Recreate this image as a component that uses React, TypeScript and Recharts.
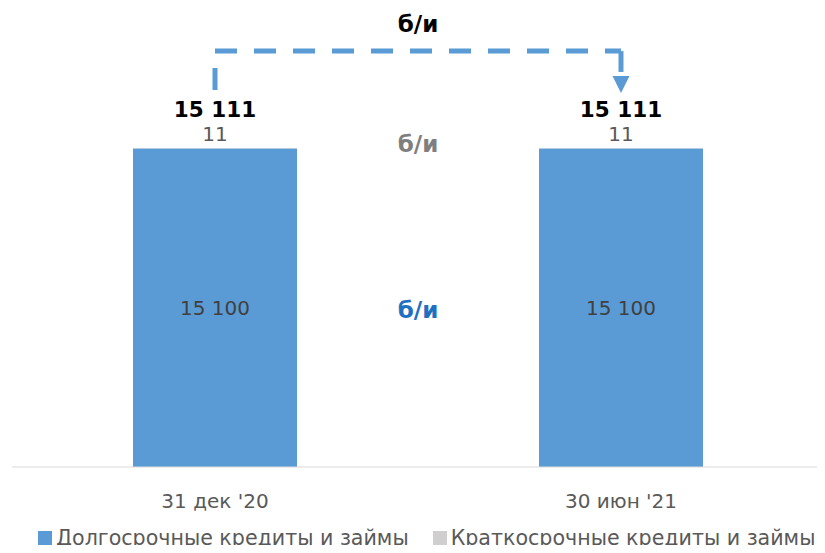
import { BarChart, Bar, XAxis, YAxis, LabelList, ReferenceLine, ReferenceDot, Legend } from 'recharts'

const periods = ["31 дек '20", "30 июн '21"]
const longTerm = [15100, 15100]
const shortTerm = [11, 11]
const seriesNames = ['Долгосрочные кредиты и займы', 'Краткосрочные кредиты и займы']
const noChange = 'б/и'

// where the annotations sit, in axis units
const topNoteY = 21000
const connectorY = 19720
const connectorLeftFrom = 17870
const connectorRightTo = 18730
const arrowTipY = 17730
const shortNoteY = 15300
const longNoteY = 7450

const data = periods.map((p, i) => ({
  period: p,
  longTerm: longTerm[i],
  shortTerm: shortTerm[i],
  total: longTerm[i] + shortTerm[i],
}))

const font = "'DejaVu Sans', Verdana, sans-serif"
const blue = '#5B9BD5'
const grey = '#D0CECE'
const textGrey = '#595959'

const fmt = (v: number) => String(v).replace(/\B(?=(\d{3})+(?!\d))/g, ' ')

const Tick = (props: any) => {
  const { x, y, payload } = props
  return (
    <text x={x} y={y + 33} textAnchor="middle" fill={textGrey} fontSize={20} fontFamily={font}>
      {payload.value}
    </text>
  )
}

const TopLabel = (props: any) => {
  const { x, y, width, index } = props
  const cx = x + width / 2
  return (
    <g fontFamily={font} textAnchor="middle">
      <text x={cx} y={y - 7} fill={textGrey} fontSize={20}>{fmt(shortTerm[index])}</text>
      <text x={cx} y={y - 31} fill="#000" fontSize={21.5} fontWeight="bold">{fmt(data[index].total)}</text>
    </g>
  )
}

const Arrow = (props: any) => {
  const { cx, cy } = props
  return <polygon points={`${cx - 8.5},${cy - 17} ${cx + 8.5},${cy - 17} ${cx},${cy}`} fill={blue} />
}

const renderLegend = (props: any) => {
  const items = props.payload || []
  return (
    <div style={{ display: 'flex', paddingLeft: 38, fontFamily: font, fontSize: 20.6, color: textGrey, lineHeight: '24px', whiteSpace: 'nowrap' }}>
      {items.map((it: any, i: number) => (
        <div key={i} style={{ display: 'flex', alignItems: 'center', marginRight: 24, flexShrink: 0 }}>
          <span style={{ width: 14, height: 14, background: it.color, marginRight: 4, display: 'inline-block' }} />
          <span>{it.value}</span>
        </div>
      ))}
    </div>
  )
}

export default function App() {
  const dash = { stroke: blue, strokeWidth: 5, strokeDasharray: '22 17' }
  const note = { fontSize: 23, fontWeight: 'bold', fontFamily: font }
  return (
    <div style={{ margin: -8, width: 825, height: 553, background: '#fff' }}>
      <BarChart width={825} height={553} data={data} margin={{ top: 3, right: 1, bottom: 56, left: 12 }} barSize={164}>
        <XAxis dataKey="period" height={30} axisLine={{ stroke: '#D9D9D9', strokeWidth: 1 }} tickLine={false} tick={<Tick />} />
        <YAxis hide domain={[0, 22000]} />
        <Bar dataKey="longTerm" name={seriesNames[0]} stackId="a" fill={blue} isAnimationActive={false}>
          <LabelList dataKey="longTerm" position="center" formatter={(v: any) => fmt(v)} fill="#404040" fontSize={20} fontFamily={font} />
        </Bar>
        <Bar dataKey="shortTerm" name={seriesNames[1]} stackId="a" fill={grey} isAnimationActive={false}>
          <LabelList dataKey="shortTerm" content={<TopLabel />} />
        </Bar>
        <ReferenceLine segment={[{ x: periods[0], y: connectorLeftFrom }, { x: periods[0], y: connectorY }]} {...dash} />
        <ReferenceLine segment={[{ x: periods[0], y: connectorY }, { x: periods[1], y: connectorY }]} {...dash} />
        <ReferenceLine segment={[{ x: periods[1], y: connectorY }, { x: periods[1], y: connectorRightTo }]} {...dash} />
        <ReferenceDot x={periods[1]} y={arrowTipY} shape={<Arrow />} />
        <ReferenceLine
          segment={[{ x: periods[0], y: topNoteY }, { x: periods[1], y: topNoteY }]}
          stroke="none"
          label={{ value: noChange, position: 'center', fill: '#000', ...note }}
        />
        <ReferenceLine
          segment={[{ x: periods[0], y: shortNoteY }, { x: periods[1], y: shortNoteY }]}
          stroke="none"
          label={{ value: noChange, position: 'center', fill: '#7F7F7F', ...note }}
        />
        <ReferenceLine
          segment={[{ x: periods[0], y: longNoteY }, { x: periods[1], y: longNoteY }]}
          stroke="none"
          label={{ value: noChange, position: 'center', fill: '#1F70C1', ...note }}
        />
        <Legend verticalAlign="middle" align="center" layout="horizontal" content={renderLegend} wrapperStyle={{ top: 526, left: 0, width: 825 }} />
      </BarChart>
    </div>
  )
}
